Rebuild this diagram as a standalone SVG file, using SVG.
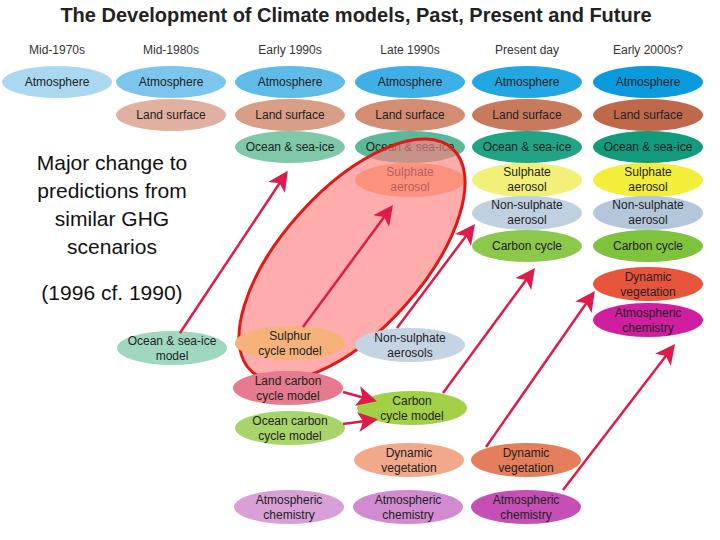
<svg xmlns="http://www.w3.org/2000/svg" width="720" height="540" viewBox="0 0 720 540">
<style>
text{font-family:"Liberation Sans",Arial,sans-serif;text-anchor:middle;fill:#222}
.n{font-size:12px}
.h{font-size:12px;fill:#333}
.big{font-size:21px;fill:#111}
.a{stroke:#dd1c4a;stroke-width:2.5;fill:none;marker-end:url(#ah)}
</style>
<defs><marker id="ah" markerWidth="8" markerHeight="8" refX="6" refY="4" orient="auto" markerUnits="strokeWidth"><path d="M0,0L8,4L0,8L2,4z" fill="#dd1c4a"/></marker></defs>
<rect width="720" height="540" fill="#fff"/>
<text x="356" y="22" style="font-size:20px;font-weight:bold;fill:#222">The Development of Climate models, Past, Present and Future</text>
<g id="headers">
<text class="h" x="57" y="54">Mid-1970s</text><text class="h" x="171" y="54">Mid-1980s</text><text class="h" x="290" y="54">Early 1990s</text><text class="h" x="410" y="54">Late 1990s</text><text class="h" x="527" y="54">Present day</text><text class="h" x="648" y="54">Early 2000s?</text>
</g>
<g id="a1"><ellipse cx="57" cy="82" rx="55" ry="16" fill="#a9d8f0"/><text class="n" x="57" y="86">Atmosphere</text></g>
<g id="a2"><ellipse cx="171" cy="82" rx="55" ry="16" fill="#7cc6ee"/><text class="n" x="171" y="86">Atmosphere</text></g>
<g id="a3"><ellipse cx="290" cy="82" rx="55" ry="16" fill="#5fbce9"/><text class="n" x="290" y="86">Atmosphere</text></g>
<g id="a4"><ellipse cx="410" cy="82" rx="55" ry="16" fill="#3fb0e6"/><text class="n" x="410" y="86">Atmosphere</text></g>
<g id="a5"><ellipse cx="527" cy="82" rx="55" ry="16" fill="#22a7e4"/><text class="n" x="527" y="86">Atmosphere</text></g>
<g id="a6"><ellipse cx="648" cy="82" rx="55" ry="16" fill="#0a9bde"/><text class="n" x="648" y="86">Atmosphere</text></g>
<g id="l2"><ellipse cx="171" cy="115" rx="55" ry="16" fill="#e0b0a0"/><text class="n" x="171" y="119">Land surface</text></g>
<g id="l3"><ellipse cx="290" cy="115" rx="55" ry="16" fill="#d99e86"/><text class="n" x="290" y="119">Land surface</text></g>
<g id="l4"><ellipse cx="410" cy="115" rx="55" ry="16" fill="#d38d72"/><text class="n" x="410" y="119">Land surface</text></g>
<g id="l5"><ellipse cx="527" cy="115" rx="55" ry="16" fill="#c97a5c"/><text class="n" x="527" y="119">Land surface</text></g>
<g id="l6"><ellipse cx="648" cy="115" rx="55" ry="16" fill="#c0694a"/><text class="n" x="648" y="119">Land surface</text></g>
<g id="o3"><ellipse cx="290" cy="147" rx="55" ry="16" fill="#7fc8a8"/><text class="n" x="290" y="151">Ocean &amp; sea-ice</text></g>
<g id="o4"><ellipse cx="410" cy="147" rx="55" ry="16" fill="#5bb898"/><text class="n" x="410" y="151">Ocean &amp; sea-ice</text></g>
<g id="o5"><ellipse cx="527" cy="147" rx="55" ry="16" fill="#21a486"/><text class="n" x="527" y="151">Ocean &amp; sea-ice</text></g>
<g id="o6"><ellipse cx="648" cy="147" rx="55" ry="16" fill="#129a7c"/><text class="n" x="648" y="151">Ocean &amp; sea-ice</text></g>
<g id="s4"><ellipse cx="410" cy="180" rx="55" ry="17" fill="#f5b57a"/><text class="n" x="410" y="176">Sulphate</text><text class="n" x="410" y="191">aerosol</text></g>
<g id="s5"><ellipse cx="527" cy="180" rx="55" ry="17" fill="#f3f07a"/><text class="n" x="527" y="176">Sulphate</text><text class="n" x="527" y="191">aerosol</text></g>
<g id="s6"><ellipse cx="648" cy="180" rx="55" ry="17" fill="#f2ef3a"/><text class="n" x="648" y="176">Sulphate</text><text class="n" x="648" y="191">aerosol</text></g>
<g id="ns5"><ellipse cx="527" cy="213" rx="55" ry="17" fill="#bfd0e0"/><text class="n" x="527" y="209">Non-sulphate</text><text class="n" x="527" y="224">aerosol</text></g>
<g id="ns6"><ellipse cx="648" cy="213" rx="55" ry="17" fill="#b4c6da"/><text class="n" x="648" y="209">Non-sulphate</text><text class="n" x="648" y="224">aerosol</text></g>
<g id="c5"><ellipse cx="527" cy="246" rx="55" ry="16" fill="#8cc84a"/><text class="n" x="527" y="250">Carbon cycle</text></g>
<g id="c6"><ellipse cx="648" cy="246" rx="55" ry="16" fill="#7fc23c"/><text class="n" x="648" y="250">Carbon cycle</text></g>
<g id="dv6"><ellipse cx="648" cy="284" rx="55" ry="17" fill="#e8553c"/><text class="n" x="648" y="281">Dynamic</text><text class="n" x="648" y="296">vegetation</text></g>
<g id="ac6"><ellipse cx="648" cy="320" rx="55" ry="17" fill="#d01ea0"/><text class="n" x="648" y="317">Atmospheric</text><text class="n" x="648" y="332">chemistry</text></g>
<g id="hl"><ellipse cx="352" cy="260" rx="150" ry="70" transform="rotate(-48 352 260)" fill="#ff8080" fill-opacity="0.65" stroke="#e01818" stroke-width="3"/></g>
<g id="osm"><ellipse cx="172" cy="348" rx="55" ry="17" fill="#9fd8bf"/><text class="n" x="172" y="345">Ocean &amp; sea-ice</text><text class="n" x="172" y="360">model</text></g>
<g id="scm"><ellipse cx="290" cy="343" rx="55" ry="17" fill="#f6b27a"/><text class="n" x="290" y="340">Sulphur</text><text class="n" x="290" y="355">cycle model</text></g>
<g id="nsa"><ellipse cx="410" cy="345" rx="55" ry="17" fill="#c4d4e2"/><text class="n" x="410" y="342">Non-sulphate</text><text class="n" x="410" y="357">aerosols</text></g>
<g id="lcm"><ellipse cx="288" cy="388" rx="55" ry="17" fill="#e67a8e"/><text class="n" x="288" y="385">Land carbon</text><text class="n" x="288" y="400">cycle model</text></g>
<g id="ccm"><ellipse cx="412" cy="408" rx="55" ry="17" fill="#a2d046"/><text class="n" x="412" y="405">Carbon</text><text class="n" x="412" y="420">cycle model</text></g>
<g id="ocm"><ellipse cx="290" cy="428" rx="55" ry="17" fill="#a8d46a"/><text class="n" x="290" y="425">Ocean carbon</text><text class="n" x="290" y="440">cycle model</text></g>
<g id="dv4"><ellipse cx="409" cy="460" rx="55" ry="17" fill="#f3a88a"/><text class="n" x="409" y="457">Dynamic</text><text class="n" x="409" y="472">vegetation</text></g>
<g id="dv5"><ellipse cx="526" cy="460" rx="55" ry="17" fill="#e57e5a"/><text class="n" x="526" y="457">Dynamic</text><text class="n" x="526" y="472">vegetation</text></g>
<g id="ac3"><ellipse cx="289" cy="507" rx="55" ry="17" fill="#d9a0d8"/><text class="n" x="289" y="504">Atmospheric</text><text class="n" x="289" y="519">chemistry</text></g>
<g id="ac4"><ellipse cx="408" cy="507" rx="55" ry="17" fill="#d28ad0"/><text class="n" x="408" y="504">Atmospheric</text><text class="n" x="408" y="519">chemistry</text></g>
<g id="ac5"><ellipse cx="526" cy="507" rx="55" ry="17" fill="#c64fb5"/><text class="n" x="526" y="504">Atmospheric</text><text class="n" x="526" y="519">chemistry</text></g>
<g id="connectors">
<line class="a" x1="180" y1="333" x2="285" y2="175"/>
<line class="a" x1="303" y1="327" x2="390" y2="209"/>
<line class="a" x1="397" y1="328" x2="472" y2="228"/>
<line class="a" x1="443" y1="393" x2="532" y2="272"/>
<line class="a" x1="486" y1="447" x2="592" y2="295"/>
<line class="a" x1="563" y1="490" x2="672" y2="348"/>
<line class="a" x1="343" y1="392" x2="372" y2="400"/>
<line class="a" x1="343" y1="424" x2="373" y2="420"/>
</g>
<g id="note">
<text class="big" x="112" y="170">Major change to</text>
<text class="big" x="112" y="198">predictions from</text>
<text class="big" x="112" y="226">similar GHG</text>
<text class="big" x="112" y="254">scenarios</text>
<text class="big" x="112" y="300">(1996 cf. 1990)</text>
</g>
</svg>
